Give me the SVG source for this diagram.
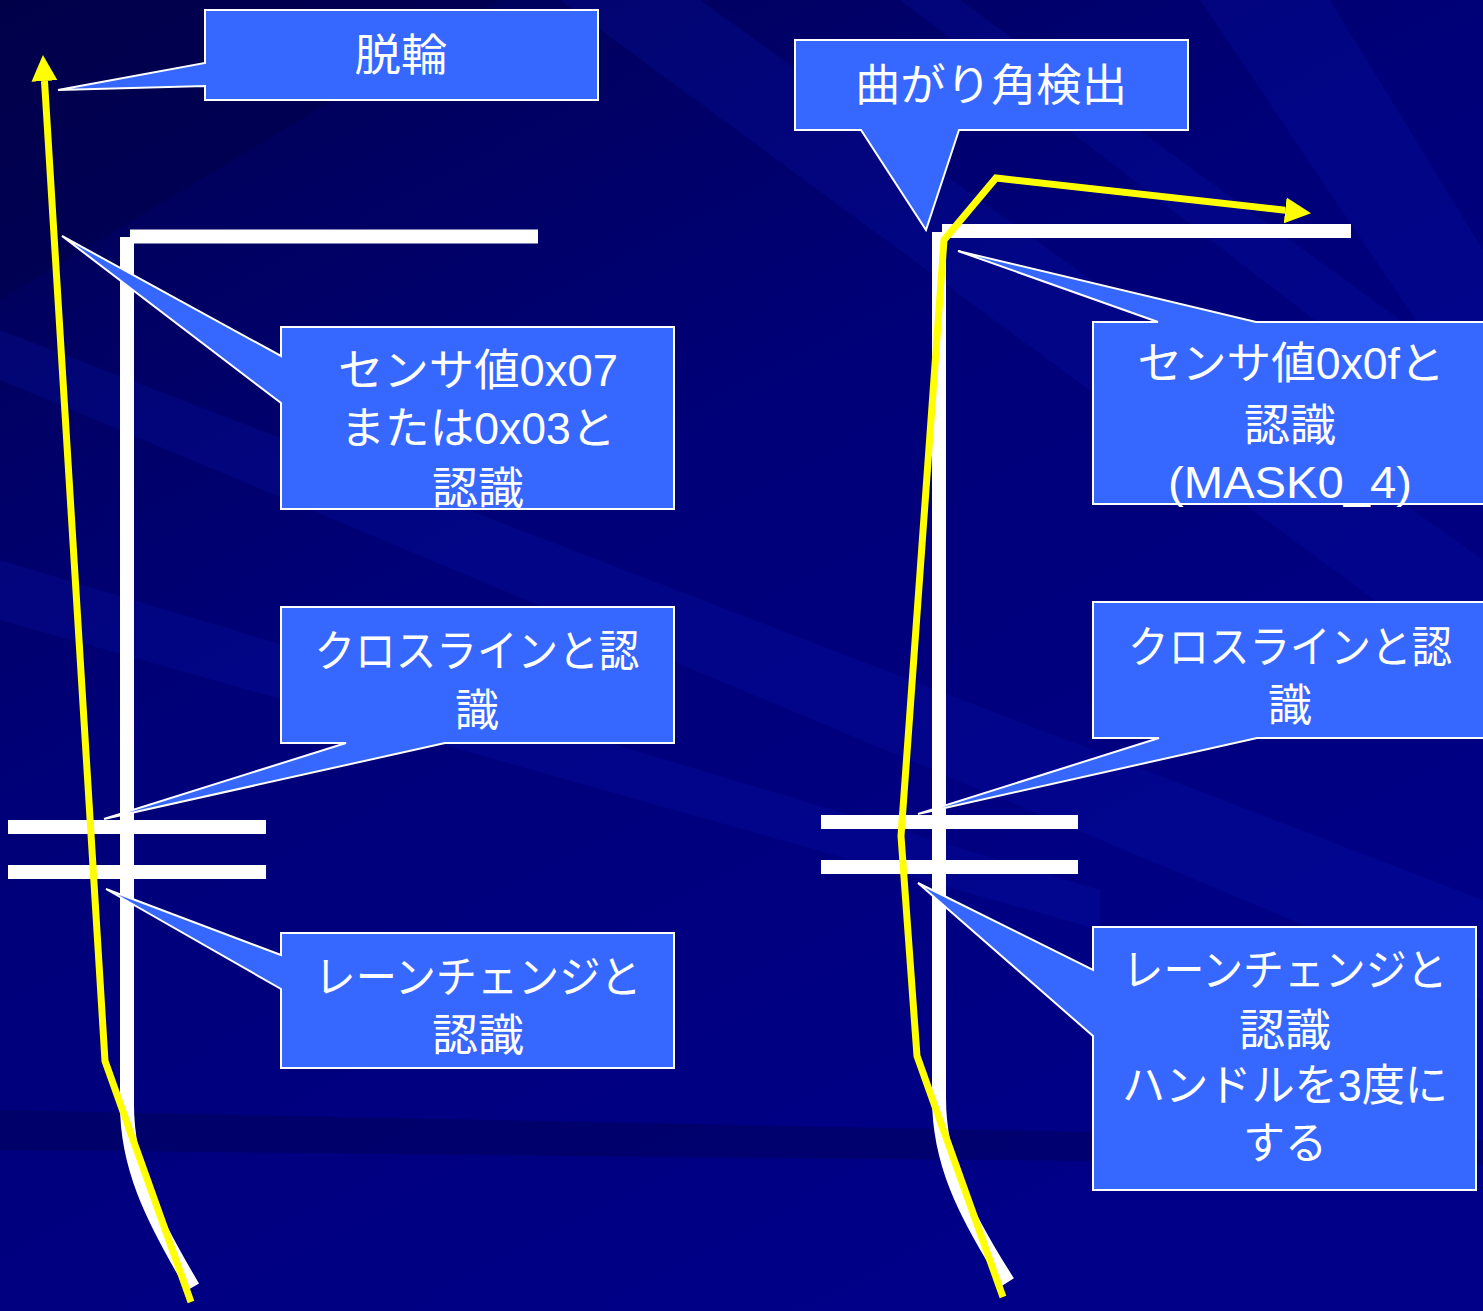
<svg xmlns="http://www.w3.org/2000/svg" width="1483" height="1311" viewBox="0 0 1483 1311">
<defs>
<linearGradient id="bg" x1="0" y1="0" x2="0.6" y2="1">
<stop offset="0" stop-color="#000050"/>
<stop offset="0.45" stop-color="#000078"/>
<stop offset="1" stop-color="#000088"/>
</linearGradient>
<marker id="ah" markerUnits="userSpaceOnUse" markerWidth="26" markerHeight="26" viewBox="0 0 24 24" refX="0" refY="12" orient="auto">
<path d="M0,0 L24,12 L0,24 Z" fill="#FFFF00"/>
</marker>
<style>
.box{fill:#3668FF;stroke:#FFFFFF;stroke-width:2;stroke-linejoin:miter}
.t{font-family:"Liberation Sans","Noto Sans CJK JP",sans-serif;font-size:44px;fill:#FFFFFF;text-anchor:middle}
.road{fill:none;stroke:#FFFFFF;stroke-width:14;stroke-linecap:butt}
.path{fill:none;stroke:#FFFF00;stroke-width:7;stroke-linejoin:miter}
.streak{fill:#0A1AB8;opacity:0.2}
.dark{fill:#00003A;opacity:0.3}
</style>
</defs>
<rect width="1483" height="1311" fill="url(#bg)"/>
<g id="background">
<polygon class="streak" points="560,0 700,0 1483,560 1483,680"/>
<polygon class="streak" points="1200,0 1330,0 1483,250 1483,420"/>
<polygon class="streak" points="0,330 0,380 1483,1000 1483,900"/>
<polygon class="streak" points="900,0 960,0 1483,380 1483,450"/>
<polygon class="dark" points="0,1110 1483,1140 1483,1165 0,1150"/>
<polygon class="dark" points="0,0 500,0 0,300"/>
<polygon class="streak" points="0,560 0,620 1100,930 1100,890"/>
</g>
<g id="connectors">
<path class="road" d="M127,237 V1105 C127,1165 150,1215 193,1287"/>
<path class="road" d="M130,236.5 H538"/>
<path class="road" d="M8,827 H266"/>
<path class="road" d="M8,872 H266"/>
<path class="road" d="M939,232 V1098 C939,1160 962,1210 1008,1282"/>
<path class="road" d="M942,231 H1351"/>
<path class="road" d="M821,822 H1078"/>
<path class="road" d="M821,867 H1078"/>
<path class="path" d="M191,1302 L105,1061 L44.5,81" marker-end="url(#ah)"/>
<path class="path" d="M1003,1297 L917,1056 L901,836 L944,240 L996,178 L1285.2,210.3" marker-end="url(#ah)"/>
</g>
<g id="callout-dakkai">
<path class="box" d="M205,10 H598 V100 H205 V86 L58,90 L205,63 Z"/>
<text class="t" x="401" y="71" textLength="93" lengthAdjust="spacingAndGlyphs">脱輪</text>
</g>
<g id="callout-magarikado">
<path class="box" d="M795,40 H1188 V130 H959 L926,230 L861,130 H795 Z"/>
<text class="t" x="991" y="101" textLength="272" lengthAdjust="spacingAndGlyphs">曲がり角検出</text>
</g>
<g id="callout-sensor-left">
<path class="box" d="M281,327 H674 V509 H281 V403 L62,236 L281,356 Z"/>
<text class="t" x="478" y="386" textLength="280" lengthAdjust="spacingAndGlyphs">センサ値0x07</text>
<text class="t" x="478" y="444" textLength="275" lengthAdjust="spacingAndGlyphs">または0x03と</text>
<text class="t" x="478" y="504" textLength="92" lengthAdjust="spacingAndGlyphs">認識</text>
</g>
<g id="callout-cross-left">
<path class="box" d="M281,607 H674 V743 H445 L104,819 L346,743 H281 Z"/>
<text class="t" x="477" y="667" textLength="325" lengthAdjust="spacingAndGlyphs">クロスラインと認</text>
<text class="t" x="477" y="726">識</text>
</g>
<g id="callout-lane-left">
<path class="box" d="M281,933 H674 V1068 H281 V989 L106,889 L281,955 Z"/>
<text class="t" x="478" y="993" textLength="327" lengthAdjust="spacingAndGlyphs">レーンチェンジと</text>
<text class="t" x="478" y="1051" textLength="92" lengthAdjust="spacingAndGlyphs">認識</text>
</g>
<g id="callout-sensor-right">
<path class="box" d="M1093,322 H1158 L958,251 L1256,322 H1490 V504 H1093 Z"/>
<text class="t" x="1291" y="379" textLength="307" lengthAdjust="spacingAndGlyphs">センサ値0x0fと</text>
<text class="t" x="1290" y="441" textLength="92" lengthAdjust="spacingAndGlyphs">認識</text>
<text class="t" x="1290" y="498" textLength="244" lengthAdjust="spacingAndGlyphs">(MASK0_4)</text>
</g>
<g id="callout-cross-right">
<path class="box" d="M1093,602 H1490 V738 H1257 L918,814 L1159,738 H1093 Z"/>
<text class="t" x="1290" y="663" textLength="324" lengthAdjust="spacingAndGlyphs">クロスラインと認</text>
<text class="t" x="1290" y="721">識</text>
</g>
<g id="callout-lane-right">
<path class="box" d="M1093,927 H1476 V1190 H1093 V1036 L918,883 L1093,970 Z"/>
<text class="t" x="1285" y="986" textLength="325" lengthAdjust="spacingAndGlyphs">レーンチェンジと</text>
<text class="t" x="1285" y="1046" textLength="92" lengthAdjust="spacingAndGlyphs">認識</text>
<text class="t" x="1285" y="1101" textLength="326" lengthAdjust="spacingAndGlyphs">ハンドルを3度に</text>
<text class="t" x="1285" y="1159" textLength="84" lengthAdjust="spacingAndGlyphs">する</text>
</g>
</svg>
